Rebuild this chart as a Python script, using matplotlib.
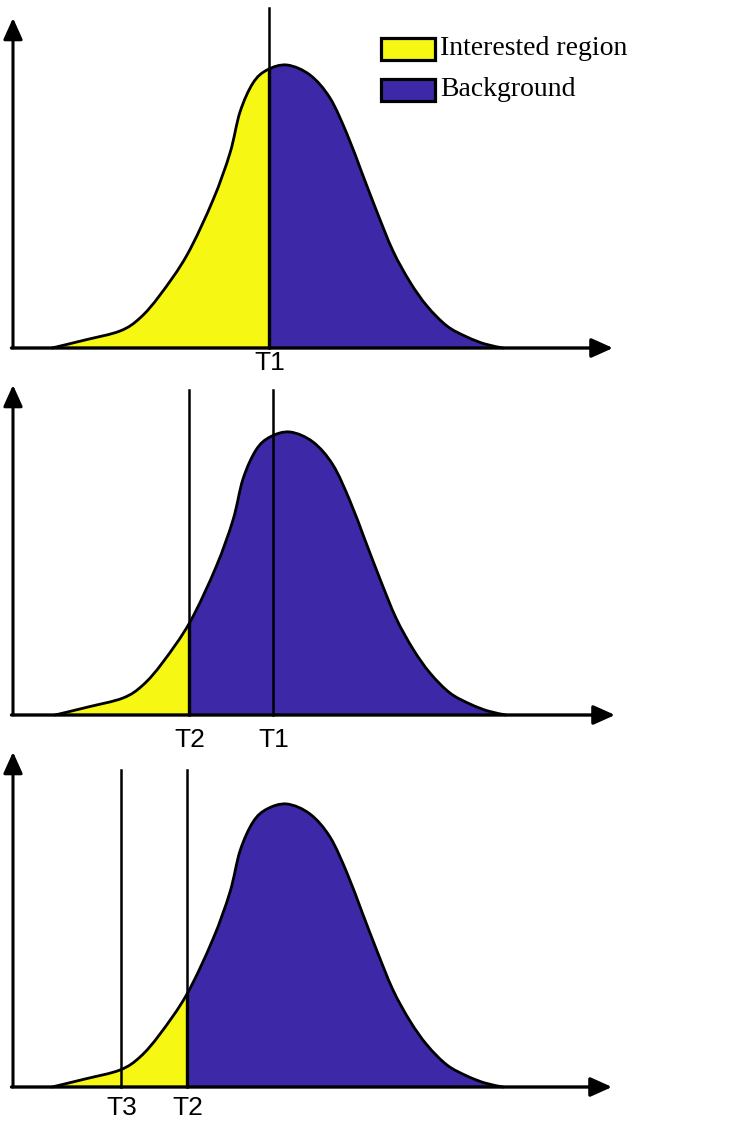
import numpy as np
import matplotlib
matplotlib.use("Agg")
import matplotlib.pyplot as plt
from matplotlib.patches import Rectangle, PathPatch
from matplotlib.path import Path

# ---- data ----
curve_x = [52, 85, 120, 140, 160, 187, 213, 230, 240, 253, 267, 287,
           310, 330, 347, 362, 377, 393, 410, 427, 447, 467, 485, 503]
curve_h = [0, 8, 17, 30, 53, 93, 148, 195, 236, 265, 278, 283,
           273, 250, 214, 175, 136, 97, 66, 42, 22, 11, 4, 0]

panel_shift = [0, 3, 0]                 # horizontal shift of the curve per panel
fill_limit = [269, 189, 187]            # yellow region ends here
thresholds = [[("T1", 269)],
              [("T2", 189), ("T1", 273)],
              [("T3", 121), ("T2", 187)]]
line_top = [340, 325, 317]
yaxis_top = [330, 330, 335]
xaxis_end = [613, 615, 612]
label_base = [-22, -32, -28]

legend_labels = ["Interested region", "Background"]
YELLOW = "#F7F714"
BLUE = "#3D28A7"
legend_colors = [YELLOW, BLUE]


def smooth_path(xs, ys, closed_base=False):
    """Catmull-Rom through the read points, expressed as cubic Bezier segments."""
    P = np.column_stack([xs, ys]).astype(float)
    ext = np.vstack([P[0], P, P[-1]])
    verts = [P[0]]
    codes = [Path.MOVETO]
    for k in range(len(P) - 1):
        p0, p1, p2, p3 = ext[k], ext[k + 1], ext[k + 2], ext[k + 3]
        c1 = p1 + (p2 - p0) / 6.0
        c2 = p2 - (p3 - p1) / 6.0
        verts += [c1, c2, p2]
        codes += [Path.CURVE4] * 3
    if closed_base:
        verts += [(P[-1, 0], 0), (P[0, 0], 0), P[0]]
        codes += [Path.LINETO, Path.LINETO, Path.CLOSEPOLY]
    return Path(np.array(verts), codes)


# ---- figure ----
W, H = 731, 1131
fig = plt.figure(figsize=(W / 100, H / 100), dpi=100)

bands = [(0, 375, 348), (375, 750, 715), (750, 1131, 1087)]

for i, (top_px, bot_px, base_px) in enumerate(bands):
    ax = fig.add_axes([0, 1 - bot_px / H, 1, (bot_px - top_px) / H])
    ax.set_xlim(0, W)
    ax.set_ylim(base_px - bot_px, base_px - top_px)
    ax.axis("off")

    x = np.array(curve_x, dtype=float) + panel_shift[i]
    h = np.array(curve_h, dtype=float)
    T = fill_limit[i]

    area = smooth_path(x, h, closed_base=True)
    blue = PathPatch(area, facecolor=BLUE, edgecolor="none", zorder=1)
    ax.add_patch(blue)
    yellow = PathPatch(area, facecolor=YELLOW, edgecolor="none", zorder=2)
    ax.add_patch(yellow)
    yellow.set_clip_path(Rectangle((0, -100), T, 600, transform=ax.transData))

    ax.add_patch(PathPatch(smooth_path(x, h), facecolor="none", edgecolor="black",
                           lw=2.0, joinstyle="round", capstyle="round", zorder=4))

    # boundary between yellow and blue, only inside the area
    bline, = ax.plot([T, T], [-5, 400], color="black", lw=2.4, zorder=3)
    bline.set_clip_path(PathPatch(area, transform=ax.transData))

    for name, tx in thresholds[i]:
        ax.plot([tx, tx], [0, line_top[i]], color="black", lw=1.8, zorder=4)
        ax.text(tx + 1, label_base[i], name, ha="center", va="baseline", fontsize=19,
                family="Liberation Sans", color="black")

    # axes arrows
    arrow_style = "-|>,head_length=1.0,head_width=0.45"
    ax.annotate("", xy=(13, yaxis_top[i]), xytext=(13, 0),
                arrowprops=dict(arrowstyle=arrow_style, lw=2.2, color="black",
                                mutation_scale=13, shrinkA=0, shrinkB=0),
                zorder=5)
    ax.annotate("", xy=(xaxis_end[i], 0), xytext=(11.5, 0),
                arrowprops=dict(arrowstyle=arrow_style, lw=2.4, color="black",
                                mutation_scale=13, shrinkA=0, shrinkB=0),
                zorder=5)

    if i == 0:
        for j, (lab, col) in enumerate(zip(legend_labels, legend_colors)):
            y0 = 288 - 41 * j
            ax.add_patch(Rectangle((381, y0), 54, 22, facecolor=col,
                                   edgecolor="black", lw=2.3, zorder=5))
            ax.text(440, 293 - 41 * j, lab, ha="left", va="baseline",
                    fontsize=20, family="Liberation Serif", color="black")

fig.savefig("out.png", dpi=100)
